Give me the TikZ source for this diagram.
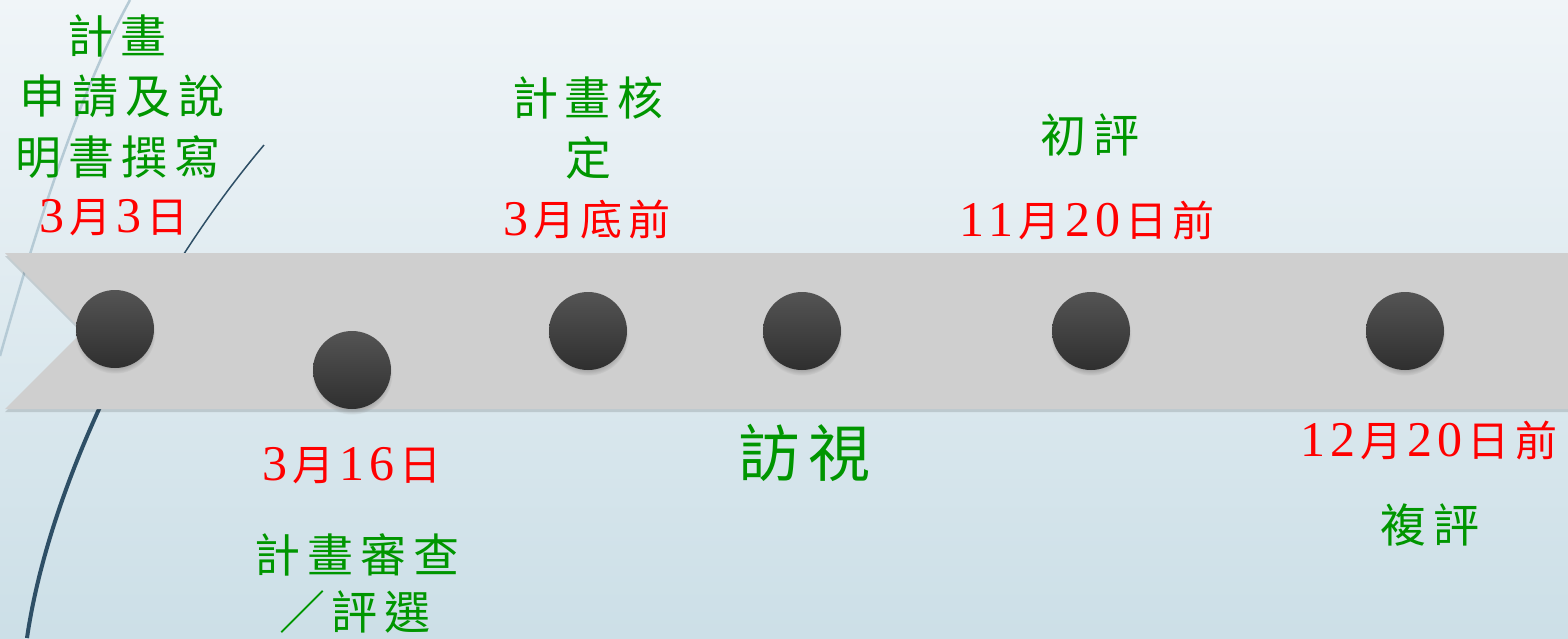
\documentclass[tikz,border=0pt]{standalone}
\usepackage{fontspec}
\setmainfont{Liberation Serif}
\newfontfamily\cjk[LetterSpace=15]{Noto Sans CJK TC}
\newfontfamily\cjkr[LetterSpace=12]{Noto Sans CJK TC}
\newfontfamily\cjkb[LetterSpace=13]{Noto Sans CJK TC}
\newfontfamily\dgt[LetterSpace=10]{Liberation Serif}
\usetikzlibrary{shadows}
\definecolor{bgtop}{HTML}{F0F5F8}
\definecolor{bgbot}{HTML}{CCDFE7}
\definecolor{bandc}{HTML}{CFCFCF}
\definecolor{dkline}{HTML}{2E4F66}
\definecolor{ltline}{HTML}{B5CAD5}
\definecolor{grn}{RGB}{0,150,0}
\definecolor{dottop}{HTML}{545454}
\definecolor{dotbot}{HTML}{2F2F2F}
\newcommand\D[1]{{\dgt\fontsize{50}{56}\selectfont #1}}
\newcommand\hs{\hspace{5pt}}
\tikzset{
  gtext/.style={text=grn, font=\cjk\fontsize{46}{52}\selectfont, inner sep=0pt},
  rtext/.style={text=red, font=\cjkr\fontsize{42}{48}\selectfont, inner sep=0pt},
  bigtext/.style={text=grn, font=\cjkb\fontsize{62}{68}\selectfont, inner sep=0pt},
  dot/.style={circle, minimum size=78pt, inner sep=0pt, top color=dottop, bottom color=dotbot,
    circular drop shadow={shadow xshift=0pt, shadow yshift=-4pt, shadow scale=1.04, opacity=0.5}},
}
\begin{document}
\begin{tikzpicture}[x=1pt, y=-1pt]
\useasboundingbox (0,0) rectangle (1568,638);
\shade[top color=bgtop, bottom color=bgbot] (0,0) rectangle (1568,638);
% decorative curves
\draw[ltline, line width=2.5pt] (130,0) .. controls (75,100) and (30,250) .. (0,356);
\begin{scope}
  \clip (0,0) rectangle (1568,253);
  \draw[dkline, line width=1.5pt] (264,145) .. controls (150,280) and (50,480) .. (27,638);
\end{scope}
\begin{scope}
  \clip (0,253) rectangle (1568,638);
  \draw[dkline, line width=4pt] (264,145) .. controls (150,280) and (50,480) .. (27,638);
\end{scope}
% band
\fill[black, opacity=0.13, yshift=-3pt] (5,253) -- (1568,253) -- (1568,409) -- (5,409) -- (83,331) -- cycle;
\fill[bandc] (5,253) -- (1568,253) -- (1568,409) -- (5,409) -- (83,331) -- cycle;
% dots
\node[dot] (c1) at (115,329) {};
\node[dot] (c2) at (352,370) {};
\node[dot] (c3) at (588,331) {};
\node[dot] (c4) at (802,331) {};
\node[dot] (c5) at (1091,331) {};
\node[dot] (c6) at (1405,331) {};
% texts
\node[gtext] (t1a) at (117,36) {計畫};
\node[gtext] (t1b) at (122,96) {申請及說};
\node[gtext] (t1c) at (118,157) {明書撰寫};
\node[rtext] (t1d) at (114,218) {\D{3}\hs 月\hs\D{3}\hs 日};
\node[gtext] (t2a) at (588,98) {計畫核};
\node[gtext] (t2b) at (588,158) {定};
\node[rtext] (t2c) at (587,220) {\D{3}\hs 月底前};
\node[gtext] (t3a) at (1090,135) {初評};
\node[rtext] (t3b) at (1087,220) {\D{11}\hs 月\hs\D{20}\hs 日前};
\node[rtext] (b1a) at (352,466) {\D{3}\hs 月\hs\D{16}\hs 日};
\node[gtext] (b1b) at (357,555) {計畫審查};
\node[gtext] (b1c) at (355,612) {／評選};
\node[bigtext] (b2) at (805,453) {訪視};
\node[rtext] (b3a) at (1429,440) {\D{12}\hs 月\hs\D{20}\hs 日前};
\node[gtext] (b3b) at (1430,525) {複評};
\end{tikzpicture}
\end{document}
